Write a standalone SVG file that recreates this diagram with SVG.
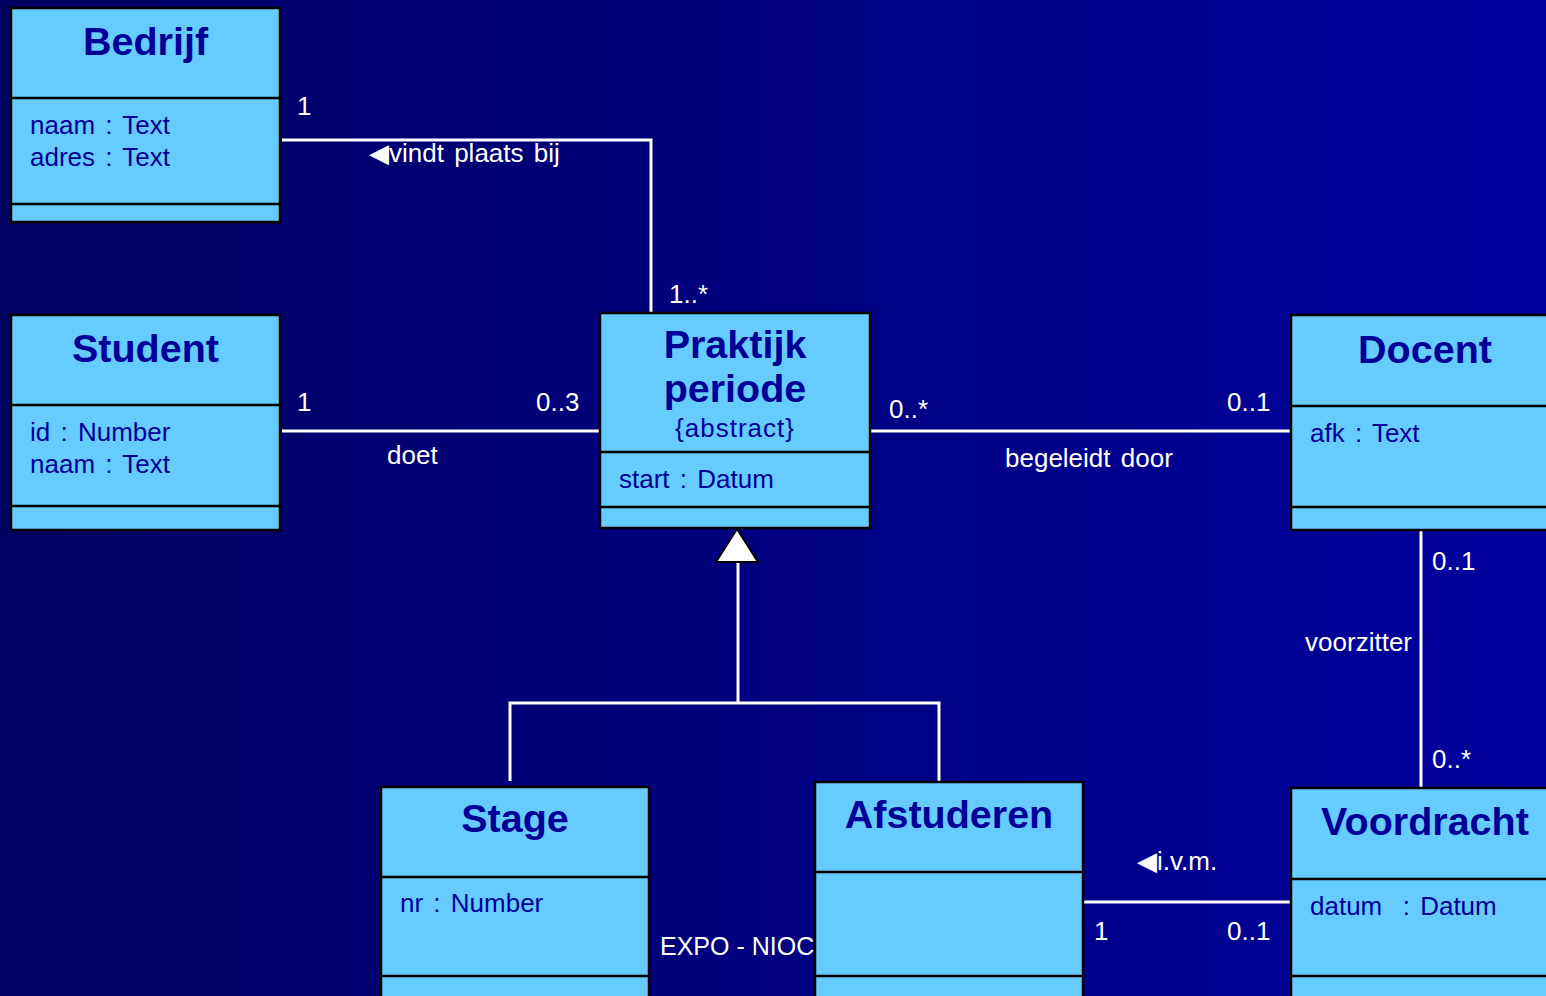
<svg xmlns="http://www.w3.org/2000/svg" width="1546" height="996" viewBox="0 0 1546 996">
<defs>
<linearGradient id="bg" x1="0" y1="0" x2="1" y2="0">
<stop offset="0" stop-color="#000062"/>
<stop offset="1" stop-color="#00009E"/>
</linearGradient>
</defs>
<style>
.box{fill:#66CCFF;stroke:#000000;stroke-width:2.5}
.div{stroke:#000000;stroke-width:2.5}
.title{font-family:"Liberation Sans",Arial,sans-serif;font-weight:bold;font-size:39.5px;fill:#000099;text-anchor:middle}
.attr{font-family:"Liberation Sans",Arial,sans-serif;font-size:26px;word-spacing:3px;fill:#000099}
.lbl{font-family:"Liberation Sans","DejaVu Sans",Arial,sans-serif;font-size:26px;word-spacing:3px;fill:#FFFFFF}
.con{stroke:#FFFFFF;stroke-width:3;fill:none}
</style>
<rect x="0" y="0" width="1546" height="996" fill="url(#bg)"/>

<g id="connectors">
<polyline class="con" points="282,140 651,140 651,313"/>
<line class="con" x1="282" y1="431" x2="600" y2="431"/>
<line class="con" x1="870" y1="431" x2="1291" y2="431"/>
<line class="con" x1="1421" y1="530" x2="1421" y2="788"/>
<line class="con" x1="1083" y1="902" x2="1291" y2="902"/>
<line class="con" x1="738" y1="562" x2="738" y2="703"/>
<polyline class="con" points="510,781 510,703 939,703 939,781"/>
<polygon points="737,529 716,562 758,562" fill="#FFFFFF" stroke="#000000" stroke-width="2"/>
<text class="lbl" x="297" y="115">1</text>
<text class="lbl" x="369" y="162">◀vindt plaats bij</text>
<text class="lbl" x="669" y="303">1..*</text>
<text class="lbl" x="297" y="411">1</text>
<text class="lbl" x="536" y="411">0..3</text>
<text class="lbl" x="387" y="464">doet</text>
<text class="lbl" x="889" y="418">0..*</text>
<text class="lbl" x="1227" y="411">0..1</text>
<text class="lbl" x="1005" y="467">begeleidt door</text>
<text class="lbl" x="1432" y="570">0..1</text>
<text class="lbl" x="1412" y="651" text-anchor="end">voorzitter</text>
<text class="lbl" x="1432" y="768">0..*</text>
<text class="lbl" x="1137" y="870">◀i.v.m.</text>
<text class="lbl" x="1094" y="940">1</text>
<text class="lbl" x="1227" y="940">0..1</text>
<text class="lbl" x="660" y="955" style="font-size:25px;word-spacing:0">EXPO - NIOC</text>
</g>

<g id="Bedrijf">
<rect class="box" x="11" y="8" width="269" height="214"/>
<line class="div" x1="11" y1="98" x2="280" y2="98"/>
<line class="div" x1="11" y1="204" x2="280" y2="204"/>
<text class="title" x="145.5" y="55">Bedrijf</text>
<text class="attr" x="30" y="134">naam : Text</text>
<text class="attr" x="30" y="166">adres : Text</text>
</g>

<g id="Student">
<rect class="box" x="11" y="315" width="269" height="215"/>
<line class="div" x1="11" y1="405" x2="280" y2="405"/>
<line class="div" x1="11" y1="506" x2="280" y2="506"/>
<text class="title" x="145.5" y="362">Student</text>
<text class="attr" x="30" y="441">id : Number</text>
<text class="attr" x="30" y="473">naam : Text</text>
</g>

<g id="Praktijkperiode">
<rect class="box" x="600" y="313" width="270" height="215"/>
<line class="div" x1="600" y1="452" x2="870" y2="452"/>
<line class="div" x1="600" y1="507" x2="870" y2="507"/>
<text class="title" x="735" y="358">Praktijk</text>
<text class="title" x="735" y="402">periode</text>
<text class="attr" x="735" y="437" text-anchor="middle" style="letter-spacing:1px">{abstract}</text>
<text class="attr" x="619" y="488">start : Datum</text>
</g>

<g id="Docent">
<rect class="box" x="1291" y="315" width="268" height="215"/>
<line class="div" x1="1291" y1="406" x2="1559" y2="406"/>
<line class="div" x1="1291" y1="507" x2="1559" y2="507"/>
<text class="title" x="1425" y="363">Docent</text>
<text class="attr" x="1310" y="442">afk : Text</text>
</g>

<g id="Voordracht">
<rect class="box" x="1291" y="788" width="268" height="230"/>
<line class="div" x1="1291" y1="879" x2="1559" y2="879"/>
<line class="div" x1="1291" y1="976" x2="1559" y2="976"/>
<text class="title" x="1425" y="835">Voordracht</text>
<text class="attr" x="1310" y="915" xml:space="preserve">datum  : Datum</text>
</g>

<g id="Stage">
<rect class="box" x="381" y="787" width="268" height="230"/>
<line class="div" x1="381" y1="877" x2="649" y2="877"/>
<line class="div" x1="381" y1="976" x2="649" y2="976"/>
<text class="title" x="515" y="832">Stage</text>
<text class="attr" x="400" y="912">nr : Number</text>
</g>

<g id="Afstuderen">
<rect class="box" x="815" y="782" width="268" height="235"/>
<line class="div" x1="815" y1="872" x2="1083" y2="872"/>
<line class="div" x1="815" y1="976" x2="1083" y2="976"/>
<text class="title" x="949" y="828">Afstuderen</text>
</g>
</svg>
